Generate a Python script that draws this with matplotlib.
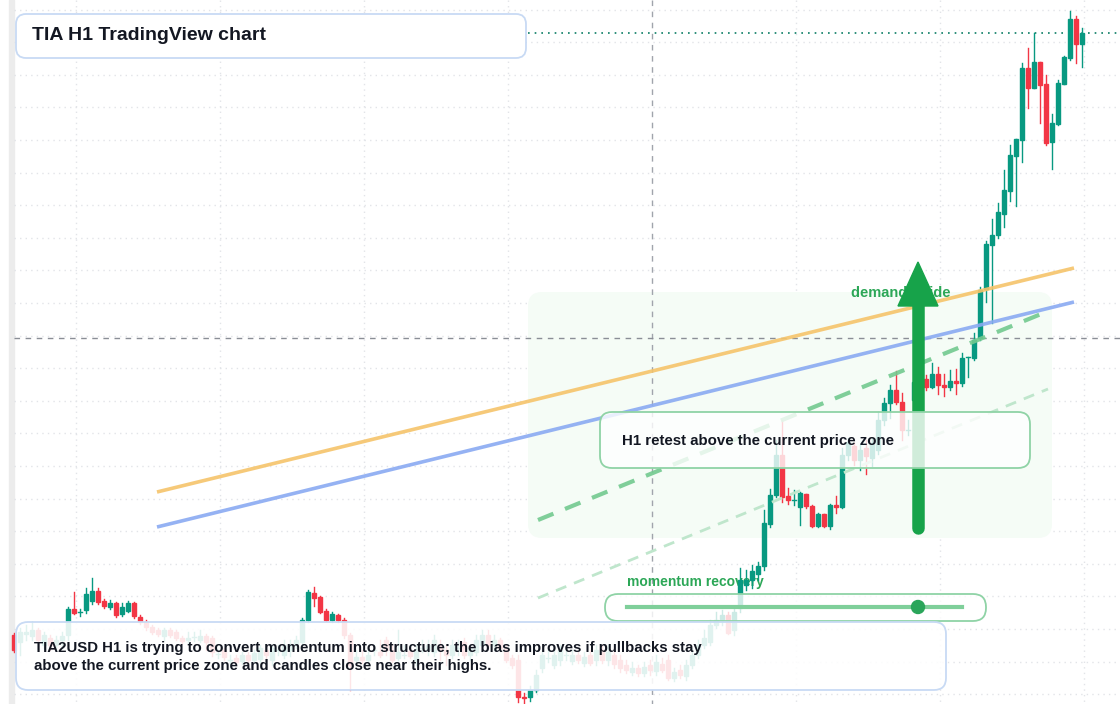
import numpy as np
import matplotlib
matplotlib.use("Agg")
import matplotlib.pyplot as plt
from matplotlib.patches import FancyBboxPatch, Circle

plt.rcParams['font.family'] = ['Liberation Sans', 'DejaVu Sans']

# ============ DATA (price levels in chart units, screen-like: smaller = higher) ============
opens = [635, 642, 634, 636, 630, 645, 638, 645, 640, 635, 609, 612, 610, 601, 591, 601, 607, 603, 614, 611,
         603, 617, 622, 627, 630, 636, 630, 632, 638, 640, 637, 640, 636, 638, 654, 650, 660, 658, 661, 655,
         660, 659, 650, 660, 650, 655, 650, 645, 642, 620, 593, 597, 611, 620, 615, 620, 635, 660, 657, 660,
         650, 652, 640, 650, 658, 655, 651, 660, 648, 650, 652, 645, 650, 655, 648, 642, 655, 652, 645, 635,
         645, 640, 648, 658, 660, 697, 697, 690, 668, 658, 665, 660, 655, 661, 655, 663, 655, 660, 650, 660,
         655, 660, 665, 672, 668, 673, 665, 671, 664, 660, 678, 670, 676, 665, 655, 645, 642, 625, 620, 615,
         630, 608, 585, 580, 574, 566, 524, 495, 455, 496, 500, 507, 494, 506, 526, 514, 526, 505, 507, 455,
         446, 460, 448, 458, 450, 420, 403, 390, 402, 430, 400, 385, 379, 387, 374, 385, 387, 381, 383, 357,
         358, 338, 289, 245, 235, 214, 191, 156, 140, 68, 88, 62, 84, 142, 124, 84, 58, 19, 44]
closes = [650, 632, 632, 630, 640, 635, 645, 640, 636, 609, 613, 612, 594, 591, 602, 606, 603, 615, 607, 603,
          616, 622, 627, 632, 634, 630, 635, 638, 641, 638, 637, 636, 642, 652, 654, 657, 660, 662, 655, 660,
          653, 648, 655, 648, 650, 645, 644, 640, 620, 592, 598, 612, 620, 614, 620, 635, 665, 657, 660, 655,
          650, 655, 650, 660, 652, 655, 656, 650, 648, 645, 640, 650, 655, 645, 648, 655, 648, 640, 635, 645,
          640, 648, 660, 665, 697, 698, 690, 675, 655, 658, 655, 650, 655, 655, 660, 657, 663, 650, 660, 652,
          664, 668, 670, 668, 673, 667, 670, 662, 670, 678, 672, 675, 665, 655, 645, 638, 625, 620, 615, 633,
          612, 580, 580, 571, 566, 523, 495, 455, 497, 500, 500, 493, 506, 526, 514, 526, 505, 507, 455, 442,
          460, 450, 456, 443, 420, 403, 390, 402, 430, 430, 382, 378, 387, 374, 385, 387, 381, 383, 358, 357,
          340, 290, 244, 235, 212, 190, 155, 139, 68, 88, 62, 85, 143, 123, 83, 57, 19, 44, 33]
highs = [633, 628, 625, 622, 628, 632, 635, 636, 632, 607, 592, 609, 588, 578, 588, 599, 600, 602, 603, 601,
         602, 615, 620, 625, 628, 628, 628, 630, 636, 632, 632, 630, 634, 636, 650, 648, 655, 655, 652, 652,
         650, 645, 646, 645, 645, 640, 640, 636, 618, 590, 587, 596, 609, 612, 614, 618, 633, 650, 650, 648,
         645, 640, 637, 645, 630, 645, 648, 645, 640, 640, 635, 640, 645, 640, 640, 638, 645, 635, 630, 630,
         635, 638, 645, 655, 655, 693, 686, 670, 650, 650, 650, 645, 650, 650, 652, 652, 650, 645, 645, 645,
         650, 655, 660, 662, 665, 662, 660, 655, 658, 655, 668, 665, 660, 648, 640, 630, 620, 612, 610, 612,
         608, 568, 570, 565, 562, 510, 489, 440, 420, 488, 490, 492, 494, 505, 513, 514, 504, 496, 448, 438,
         443, 445, 440, 438, 412, 398, 385, 371, 393, 420, 378, 370, 375, 363, 367, 374, 370, 369, 353, 357,
         333, 287, 241, 219, 203, 170, 145, 139, 63, 48, 33, 62, 75, 114, 80, 56, 11, 16, 28]
lows = [652, 655, 640, 640, 642, 648, 650, 650, 645, 640, 614, 616, 613, 604, 604, 608, 609, 617, 616, 612,
        618, 624, 630, 634, 636, 640, 637, 640, 643, 643, 641, 642, 650, 656, 658, 660, 663, 665, 664, 664,
        662, 662, 660, 665, 655, 658, 656, 648, 645, 622, 606, 613, 621, 622, 622, 638, 690, 665, 663, 665,
        655, 657, 655, 662, 660, 658, 658, 665, 652, 655, 656, 660, 665, 658, 655, 658, 660, 655, 650, 648,
        650, 650, 662, 668, 702, 703, 701, 692, 672, 662, 668, 665, 660, 664, 663, 666, 665, 665, 663, 665,
        668, 672, 673, 675, 676, 676, 675, 675, 672, 680, 681, 678, 680, 668, 658, 648, 645, 628, 625, 634,
        635, 612, 590, 588, 580, 570, 527, 497, 502, 504, 505, 525, 508, 527, 527, 527, 529, 513, 508, 460,
        465, 470, 474, 466, 454, 425, 418, 404, 440, 435, 402, 392, 390, 388, 394, 396, 390, 394, 386, 377,
        360, 340, 302, 323, 238, 227, 201, 206, 162, 108, 88, 123, 145, 169, 125, 84, 60, 63, 67]

yellow_line = [(157, 492), (1074, 268)]
blue_line = [(157, 527), (1074, 302)]
green_dash = [(538, 520), (1046, 312)]
light_dash = [(538, 598), (1048, 389)]

title = "TIA H1 TradingView chart"
note = ("TIA2USD H1 is trying to convert momentum into structure; the bias improves if pullbacks stay\n"
        "above the current price zone and candles close near their highs.")
retest_label = "H1 retest above the current price zone"

UP = '#089981'
DOWN = '#f23645'
INK = '#131722'

fig = plt.figure(figsize=(11.2, 7.04), dpi=100)
ax = fig.add_axes([0, 0, 1, 1])
ax.set_xlim(0, 1120)
ax.set_ylim(704, 0)
ax.axis('off')

# left strip
ax.add_patch(plt.Rectangle((9, 0), 5, 704, color='#ececec', zorder=0))

# grid
for gx in [76, 220, 364, 508, 796, 940, 1084]:
    ax.plot([gx, gx], [0, 704], color='#e2e4e8', lw=1, ls=(0, (1, 3)), zorder=1)
for gy in np.arange(9.5, 704, 32.6):
    ax.plot([14, 1120], [gy, gy], color='#e2e4e8', lw=1, ls=(0, (1, 3)), zorder=1)
# crosshair
ax.plot([652, 652], [0, 704], color='#a0a4ac', lw=1, ls=(0, (4, 4)), zorder=1.5)
ax.plot([14, 1120], [338, 338], color='#8a8e96', lw=1, ls=(0, (4, 4)), zorder=1.5)
# last price
ax.plot([528, 1120], [33, 33], color='#0a7d64', lw=1.2, ls=(0, (1, 3)), zorder=1.5)

# demand zone
ax.add_patch(FancyBboxPatch((528, 292), 524, 246, boxstyle='round,pad=0,rounding_size=14',
                            fc='#f5fcf6', ec='none', zorder=1.2))

# candles
xs = 14 + 6 * np.arange(len(opens))
for x, o, c, h, l in zip(xs, opens, closes, highs, lows):
    col = UP if c <= o else DOWN
    ax.plot([x, x], [h, l], color=col, lw=1, zorder=3)
    top, bot = min(o, c), max(o, c)
    if bot - top < 1:
        ax.plot([x - 2.3, x + 2.3], [o, o], color=col, lw=1, zorder=3)
    else:
        ax.add_patch(plt.Rectangle((x - 2.4, top), 4.8, bot - top, color=col, zorder=3))

# trend lines
ax.plot(*zip(*yellow_line), color='#f5c46a', lw=2.6, alpha=0.9, zorder=4, solid_capstyle='butt')
ax.plot(*zip(*blue_line), color='#8aaaf2', lw=2.6, alpha=0.9, zorder=4, solid_capstyle='butt')
ax.plot(*zip(*green_dash), color='#72c98f', lw=3, ls=(0, (4, 3)), alpha=0.9, zorder=4)
ax.plot(*zip(*light_dash), color='#bfe6cc', lw=2, ls=(0, (4, 3)), zorder=4)

# demand guide
ax.text(851, 293, 'demand guide', color='#2ca757', fontsize=10.5, fontweight='bold',
        va='center', ha='left', zorder=4.5)
ax.plot([918, 918], [528, 300], color='#17a34a', lw=9, solid_capstyle='round', zorder=5)
ax.add_patch(plt.Polygon([[898, 306], [938, 306], [918, 262]], color='#17a34a', zorder=5))

# retest box
ax.add_patch(FancyBboxPatch((600, 412), 430, 56, boxstyle='round,pad=0,rounding_size=12',
                            fc=(1, 1, 1, 0.8), ec='#8fd3a6', lw=1.3, zorder=6))
ax.text(622, 441, retest_label, color=INK, fontsize=10.8, fontweight='bold', va='center', zorder=7)

# momentum recovery
ax.text(627, 582, 'momentum recovery', color='#2ca757', fontsize=10, fontweight='bold',
        va='center', zorder=2.5)
ax.add_patch(FancyBboxPatch((605, 594), 381, 27, boxstyle='round,pad=0,rounding_size=13',
                            fc=(1, 1, 1, 0.8), ec='#8fd3a6', lw=1.3, zorder=6))
ax.plot([627, 962], [607, 607], color='#7fcf9a', lw=3, zorder=7)
ax.add_patch(Circle((918, 607), 6.5, color='#2aa55a', zorder=8))

# bottom note
ax.add_patch(FancyBboxPatch((16, 622), 930, 68, boxstyle='round,pad=0,rounding_size=12',
                            fc=(1, 1, 1, 0.88), ec='#c8daf4', lw=1.3, zorder=9))
ax.text(34, 657, note, color=INK, fontsize=10.8, fontweight='bold', va='center',
        linespacing=1.3, zorder=10)

# title
ax.add_patch(FancyBboxPatch((16, 14), 510, 44, boxstyle='round,pad=0,rounding_size=10',
                            fc='white', ec='#c8daf4', lw=1.3, zorder=9))
ax.text(32, 36, title, color=INK, fontsize=14, fontweight='bold', va='center', zorder=10)

fig.savefig('out.png', dpi=100)
